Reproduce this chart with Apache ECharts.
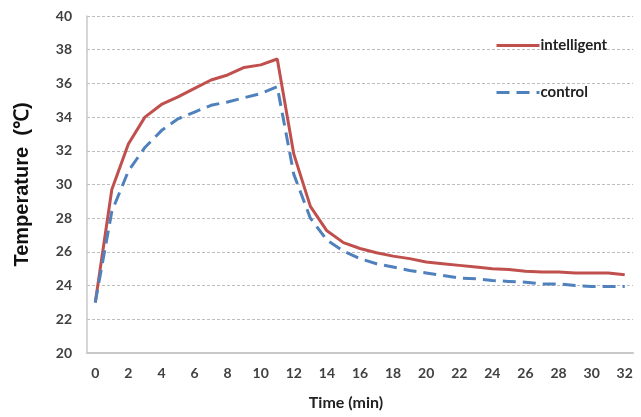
<!DOCTYPE html>
<html>
<head>
<meta charset="utf-8">
<script src="https://cdn.jsdelivr.net/npm/echarts@6/dist/echarts.min.js"></script>
<style>
  html, body { margin: 0; padding: 0; background: #fff; }
  #chart { width: 641px; height: 417px; }
</style>
</head>
<body>
<div id="chart"></div>
<script>
var minutes = [];
for (var m = 0; m <= 32; m++) minutes.push(String(m));

var intelligent = [23.0, 29.7, 32.4, 34.0, 34.75, 35.2, 35.7, 36.2, 36.5, 36.95, 37.1, 37.45,
    31.8, 28.7, 27.25, 26.55, 26.2, 25.95, 25.75, 25.6, 25.4, 25.3, 25.2, 25.1, 25.0,
    24.95, 24.85, 24.8, 24.8, 24.75, 24.75, 24.75, 24.65];
var control = [23.0, 28.4, 30.8, 32.2, 33.2, 33.9, 34.3, 34.7, 34.9, 35.15, 35.4, 35.8,
    30.6, 28.0, 26.7, 26.05, 25.6, 25.3, 25.1, 24.9, 24.75, 24.6, 24.45, 24.4, 24.3,
    24.25, 24.2, 24.1, 24.1, 24.0, 23.95, 23.95, 23.95];

(function () {
    var chart = echarts.init(document.getElementById('chart'));
    var labelFont = { fontFamily: 'Lato', fontWeight: 'bold', fontSize: 14, color: '#404040' };
    var option = {
        animation: false,
        grid: { left: 87, right: 8, top: 16, bottom: 64 },
        legend: {
            orient: 'vertical',
            left: 490,
            top: 33,
            itemWidth: 43,
            itemHeight: 14,
            itemGap: 32,
            itemStyle: { opacity: 0 },
            lineStyle: { width: 3 },
            textStyle: { fontFamily: 'Lato', fontWeight: 'bold', fontSize: 15, color: '#222', padding: [0, 0, 0, -4] },
            data: ['intelligent', 'control']
        },
        xAxis: {
            type: 'category',
            data: minutes,
            name: 'Time (min)',
            nameLocation: 'middle',
            nameGap: 42,
            nameTextStyle: { fontFamily: 'Lato', fontWeight: 'bold', fontSize: 16, color: '#222', padding: [0, 28, 0, 0] },
            axisLine: { lineStyle: { color: '#c8c8c8', width: 2 } },
            axisTick: { show: false },
            axisLabel: Object.assign({ interval: 1, margin: 13 }, labelFont)
        },
        yAxis: {
            type: 'value',
            min: 20,
            max: 40,
            interval: 2,
            name: 'Temperature  (\u2103)',
            nameLocation: 'middle',
            nameGap: 55,
            nameTextStyle: { fontFamily: 'Liberation Sans', fontWeight: 'bold', fontSize: 20, color: '#111' },
            axisLine: { show: true, lineStyle: { color: '#c8c8c8', width: 1.5 } },
            axisTick: { show: false },
            axisLabel: Object.assign({ margin: 15 }, labelFont),
            splitLine: { lineStyle: { color: '#bdbdbd', type: [3, 2], width: 1 } }
        },
        series: [
            {
                name: 'intelligent',
                type: 'line',
                data: intelligent,
                symbol: 'none',
                lineStyle: { color: '#C0504D', width: 3 },
                itemStyle: { color: '#C0504D' }
            },
            {
                name: 'control',
                type: 'line',
                data: control,
                symbol: 'none',
                lineStyle: { color: '#4F81BD', width: 3, type: [13, 7] },
                itemStyle: { color: '#4F81BD' }
            }
        ]
    };
    chart.setOption(option);
})();
</script>
</body>
</html>
